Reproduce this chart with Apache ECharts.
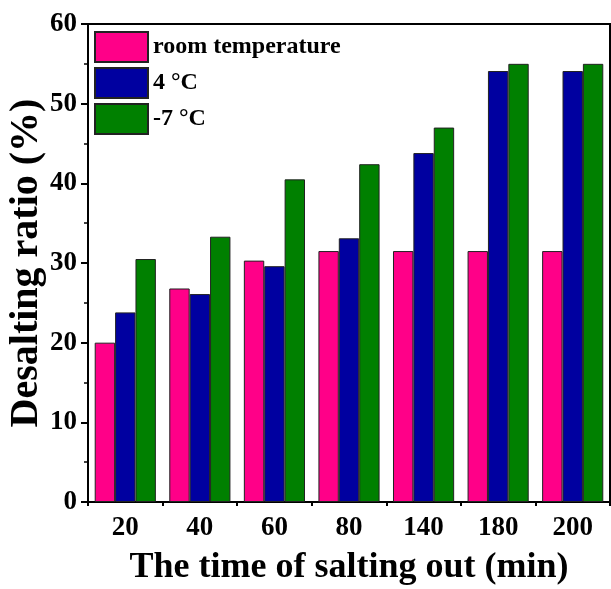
<!DOCTYPE html>
<html>
<head>
<meta charset="utf-8">
<script src="https://cdn.jsdelivr.net/npm/echarts@6/dist/echarts.min.js"></script>
<style>
html,body{margin:0;padding:0;background:#fff;}
#chart{width:611px;height:589px;}
</style>
</head>
<body>
<div id="chart"></div>
<script>
const categories = ['20', '40', '60', '80', '140', '180', '200'];
const roomTemp = [20.0, 26.8, 30.3, 31.5, 31.5, 31.5, 31.5];
const fourC = [23.8, 26.1, 29.6, 33.1, 43.8, 54.1, 54.1];
const minus7C = [30.5, 33.3, 40.5, 42.4, 47.0, 55.0, 55.0];
const seriesNames = ['room temperature', '4 \u00B0C', '-7 \u00B0C'];
const yTicks = { min: 0, max: 60, interval: 10 };

const FONT = '"Liberation Serif", "Times New Roman", serif';
const colors = ['#FF0088', '#0000A0', '#008000'];
const chart = echarts.init(document.getElementById('chart'));

const data = [roomTemp, fourC, minus7C];
const series = seriesNames.map((n, i) => ({
  name: n,
  type: 'bar',
  data: data[i],
  xAxisIndex: 0,
  barGap: '0%',
  barCategoryGap: '18%',
  itemStyle: { color: colors[i], borderColor: '#222', borderWidth: 1 }
}));

chart.setOption({
  animation: false,
  backgroundColor: '#fff',
  grid: { left: 88, right: 1, top: 24, bottom: 87, show: true, borderColor: '#000', borderWidth: 2,
          containLabel: false, outerBoundsMode: 'none' },
  legend: {
    orient: 'vertical',
    left: 94,
    top: 31,
    padding: 0,
    itemWidth: 53,
    itemHeight: 30,
    itemGap: 4,
    icon: 'rect',
    textStyle: { fontFamily: FONT, fontWeight: 'bold', fontSize: 24, color: '#000' },
    data: seriesNames
  },
  xAxis: [{
    type: 'category',
    data: categories,
    position: 'bottom',
    name: 'The time of salting out (min)',
    nameLocation: 'middle',
    nameGap: 48,
    nameMoveOverlap: false,
    nameTextStyle: { fontFamily: FONT, fontWeight: 'bold', fontSize: 36, color: '#000' },
    axisLine: { lineStyle: { color: '#000', width: 2 } },
    axisTick: { alignWithLabel: true, length: 7, lineStyle: { color: '#000', width: 2 } },
    axisLabel: { margin: 13, fontFamily: FONT, fontWeight: 'bold', fontSize: 27, color: '#000' }
  }, {
    type: 'category',
    data: categories,
    position: 'bottom',
    axisLine: { show: false },
    axisTick: { show: true, length: 4, lineStyle: { color: '#000', width: 2 } },
    axisLabel: { show: false }
  }],
  yAxis: {
    type: 'value',
    min: yTicks.min,
    max: yTicks.max,
    interval: yTicks.interval,
    name: 'Desalting ratio (%)',
    nameLocation: 'middle',
    nameGap: 41,
    nameMoveOverlap: false,
    nameTextStyle: { fontFamily: FONT, fontWeight: 'bold', fontSize: 40, color: '#000' },
    splitLine: { show: false },
    axisLine: { show: true, lineStyle: { color: '#000', width: 2 } },
    axisTick: { show: true, length: 7, lineStyle: { color: '#000', width: 2 } },
    minorTick: { show: true, splitNumber: 2, length: 4, lineStyle: { color: '#000', width: 1.5 } },
    axisLabel: { margin: 11, fontFamily: FONT, fontWeight: 'bold', fontSize: 27, color: '#000' }
  },
  series: series
});
</script>
</body>
</html>
